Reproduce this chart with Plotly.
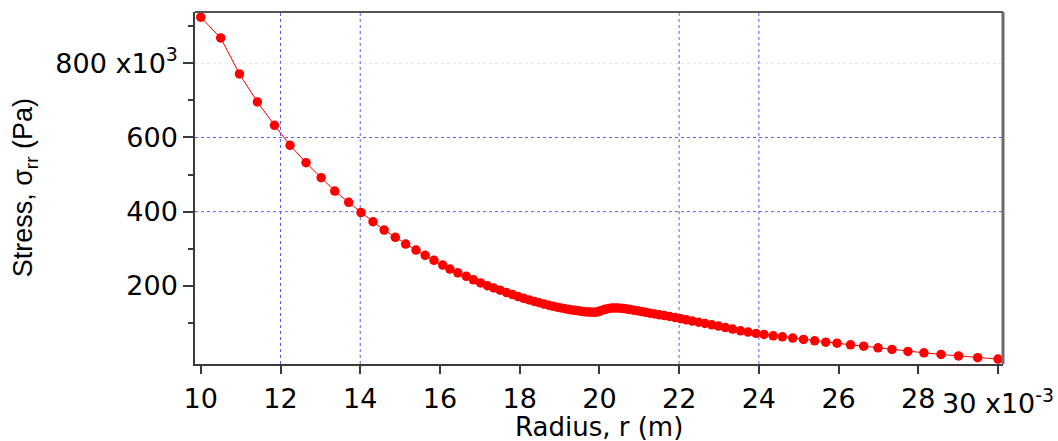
import plotly.graph_objects as go

# Radial stress profile: radius in mm (x10^-3 m), stress in kPa (x10^3 Pa)
radius_mm = [
    10.00, 10.50, 10.97, 11.42, 11.85, 12.24, 12.64, 13.02, 13.36, 13.71,
    14.02, 14.32, 14.60, 14.88, 15.14, 15.40, 15.63, 15.85, 16.07, 16.25,
    16.45, 16.66, 16.84, 17.02, 17.19, 17.35, 17.51, 17.67, 17.82, 17.96,
    18.10, 18.24, 18.37, 18.49, 18.61, 18.73, 18.84, 18.94, 19.04, 19.14,
    19.23, 19.31, 19.39, 19.47, 19.55, 19.62, 19.69, 19.75, 19.82, 19.88,
    19.94, 20.00, 20.06, 20.12, 20.18, 20.25, 20.31, 20.38, 20.45, 20.53,
    20.61, 20.69, 20.77, 20.86, 20.96, 21.06, 21.16, 21.27, 21.39, 21.51,
    21.63, 21.76, 21.90, 22.04, 22.18, 22.33, 22.49, 22.65, 22.82, 22.99,
    23.16, 23.34, 23.54, 23.73, 23.93, 24.13, 24.36, 24.59, 24.85, 25.12,
    25.40, 25.68, 25.96, 26.30, 26.63, 26.99, 27.34, 27.74, 28.14, 28.57,
    29.01, 29.49, 30.00,
]

stress_kpa = [
    924.4, 868.5, 771.4, 695.8, 632.9, 578.9, 532.0, 491.5, 455.6, 425.1,
    397.6, 372.7, 350.3, 330.6, 312.6, 296.4, 282.1, 268.6, 255.9, 245.1,
    235.1, 225.4, 216.0, 207.6, 200.1, 194.0, 188.0, 181.8, 176.2, 171.0,
    166.3, 161.8, 157.7, 154.2, 150.8, 147.5, 144.6, 142.4, 140.3, 138.2,
    136.3, 134.9, 133.7, 132.4, 131.2, 130.2, 129.5, 129.0, 128.6, 128.6,
    129.2, 131.0, 133.5, 135.8, 137.6, 139.0, 139.9, 140.2, 140.0, 139.4,
    138.4, 137.2, 135.8, 134.2, 132.4, 130.4, 128.4, 126.2, 124.0, 121.8,
    119.6, 117.1, 114.2, 111.2, 108.1, 104.9, 101.6, 98.3, 94.8, 91.3,
    87.4, 83.1, 78.5, 75.0, 71.5, 68.8, 65.0, 62.3, 58.8, 55.3,
    51.6, 48.0, 45.3, 40.8, 37.2, 32.7, 28.3, 22.9, 19.2, 14.8,
    10.8, 6.0, 2.2,
]

x_tickvals = [10, 12, 14, 16, 18, 20, 22, 24, 26, 28, 30]
x_ticktext = ["10", "12", "14", "16", "18", "20", "22", "24", "26", "28", ""]
x_last_label = "30 x10<sup>-3</sup>"
y_tickvals = [200, 400, 600, 800]
y_ticktext = ["200", "400", "600", "800 x10<sup>3</sup>"]
y_minor_vals = [100, 300, 500, 700, 900]

# grid lines that are drawn
x_grid_blue = [12, 14, 22, 24]
y_grid_blue = [400, 600]
y_grid_faint = [800]

AXIS = "#3a3a3a"
FRAME = "#6a6a6a"
GRID_BLUE = "#5a5aff"
GRID_FAINT = "rgba(205,205,220,0.5)"
TICK_FONT = dict(family="DejaVu Sans", size=27, color="black")

fig = go.Figure()
fig.add_trace(go.Scatter(
    x=radius_mm, y=stress_kpa, mode="lines+markers",
    line=dict(color="#ff0000", width=1),
    marker=dict(color="#ff0000", size=9.5, line=dict(width=0)),
    showlegend=False,
))

shapes = []
for v in x_grid_blue:
    shapes.append(dict(type="line", xref="x", yref="paper", x0=v, x1=v, y0=0, y1=1,
                       line=dict(color=GRID_BLUE, width=1, dash="dot"), layer="below"))
for v in y_grid_blue:
    shapes.append(dict(type="line", xref="paper", yref="y", x0=0, x1=1, y0=v, y1=v,
                       line=dict(color=GRID_BLUE, width=1, dash="dot"), layer="below"))
for v in y_grid_faint:
    shapes.append(dict(type="line", xref="paper", yref="y", x0=0, x1=1, y0=v, y1=v,
                       line=dict(color=GRID_FAINT, width=1, dash="dot"), layer="below"))
# top and right frame
shapes.append(dict(type="line", xref="paper", yref="paper", x0=0, x1=1, y0=1, y1=1,
                   line=dict(color="#555555", width=2)))
shapes.append(dict(type="line", xref="paper", yref="paper", x0=1, x1=1, y0=0, y1=1,
                   line=dict(color=FRAME, width=3)))

fig.update_layout(
    width=1058, height=441,
    margin=dict(l=195, r=55, t=12, b=77),
    paper_bgcolor="white", plot_bgcolor="white",
    shapes=shapes,
    xaxis=dict(
        range=[9.855, 30.125], showgrid=False, zeroline=False,
        showline=True, linecolor=AXIS, linewidth=1.5,
        ticks="outside", ticklen=8, tickwidth=1.5, tickcolor=AXIS,
        tickmode="array", tickvals=x_tickvals, ticktext=x_ticktext,
        tickfont=TICK_FONT, ticklabelstandoff=2,
    ),
    yaxis=dict(
        range=[-11, 938.5], showgrid=False, zeroline=False,
        showline=True, linecolor=AXIS, linewidth=1.5,
        ticks="outside", ticklen=10, tickwidth=1.5, tickcolor=AXIS,
        tickmode="array", tickvals=y_tickvals, ticktext=y_ticktext,
        tickfont=TICK_FONT,
        minor=dict(tickmode="array", tickvals=y_minor_vals, ticks="outside",
                   ticklen=5, tickwidth=1.5, tickcolor=AXIS, showgrid=False),
    ),
    annotations=[
        dict(text=x_last_label, xref="x", yref="paper",
             x=x_tickvals[-1], y=-0.05, xanchor="center", yanchor="top",
             showarrow=False, font=TICK_FONT),
        dict(text="Radius, r (m)", xref="paper", yref="paper",
             x=0.5, y=-0.18, xanchor="center", yanchor="middle", showarrow=False,
             font=dict(family="DejaVu Sans", size=26, color="black")),
        dict(text="Stress, σ<sub>rr</sub> (Pa)", xref="paper", yref="paper",
             x=-0.21, y=0.5, xanchor="center", yanchor="middle", showarrow=False,
             textangle=-90,
             font=dict(family="Liberation Sans", size=27, color="black")),
    ],
)

fig.write_html("out.html")
